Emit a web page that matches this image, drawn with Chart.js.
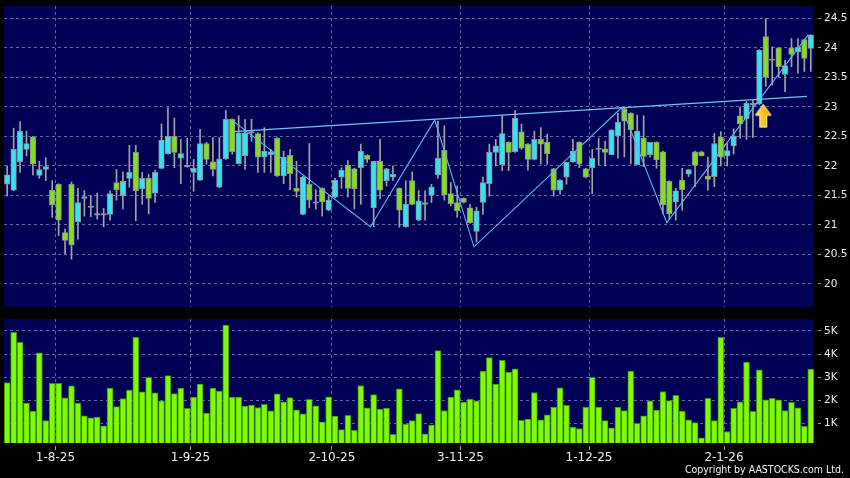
<!DOCTYPE html>
<html>
<head>
<meta charset="utf-8">
<title>Daily candlestick with volume</title>
<script src="https://cdn.jsdelivr.net/npm/chart.js"></script>
<style>
  html, body { margin: 0; padding: 0; background: #000; }
  #wrap { position: relative; width: 850px; height: 478px; overflow: hidden; background: #000; }
  #copy { position: absolute; right: 6px; top: 463px; color: #f2f2f2; white-space: nowrap;
          font: 10.5px "DejaVu Sans Condensed", "Liberation Sans Narrow", "DejaVu Sans", sans-serif; }
</style>
</head>
<body>
<div id="wrap">
  <canvas id="priceChart" width="850" height="310" style="position:absolute;left:0;top:0"></canvas>
  <canvas id="volChart" width="850" height="163" style="position:absolute;left:0;top:315px"></canvas>
  <div id="copy">Copyright by AASTOCKS.com Ltd.</div>
</div>

<script>
  // trading days (d-m-yy)
  const dates = [
    '23-7-25','24-7-25','25-7-25','28-7-25','29-7-25','30-7-25','31-7-25',
    '1-8-25','4-8-25','5-8-25','6-8-25','7-8-25','8-8-25','11-8-25','12-8-25','13-8-25','14-8-25','15-8-25',
    '18-8-25','19-8-25','20-8-25','21-8-25','22-8-25','25-8-25','26-8-25','27-8-25','28-8-25','29-8-25',
    '1-9-25','2-9-25','3-9-25','4-9-25','5-9-25','8-9-25','9-9-25','10-9-25','11-9-25','12-9-25','15-9-25',
    '16-9-25','17-9-25','18-9-25','19-9-25','22-9-25','23-9-25','24-9-25','25-9-25','26-9-25','29-9-25','30-9-25',
    '2-10-25','3-10-25','6-10-25','8-10-25','9-10-25','10-10-25','13-10-25','14-10-25','15-10-25','16-10-25',
    '17-10-25','20-10-25','21-10-25','22-10-25','23-10-25','24-10-25','27-10-25','28-10-25','30-10-25','31-10-25',
    '3-11-25','4-11-25','5-11-25','6-11-25','7-11-25','10-11-25','11-11-25','12-11-25','13-11-25','14-11-25',
    '17-11-25','18-11-25','19-11-25','20-11-25','21-11-25','24-11-25','25-11-25','26-11-25','27-11-25','28-11-25',
    '1-12-25','2-12-25','3-12-25','4-12-25','5-12-25','8-12-25','9-12-25','10-12-25','11-12-25','12-12-25',
    '15-12-25','16-12-25','17-12-25','18-12-25','19-12-25','22-12-25','23-12-25','24-12-25','29-12-25','30-12-25','31-12-25',
    '2-1-26','5-1-26','6-1-26','7-1-26','8-1-26','9-1-26','12-1-26','13-1-26','14-1-26','15-1-26',
    '16-1-26','19-1-26','20-1-26','21-1-26','22-1-26'
  ];

  const open = [
    21.69,21.59,22.07,22.28,22.49,21.84,21.94,21.59,21.69,20.87,
    21.69,21.05,21.45,21.31,21.18,21.18,21.18,21.72,21.49,21.79,
    22.23,21.61,21.79,21.54,21.96,22.21,22.50,22.13,22.00,21.89,
    21.76,22.38,22.07,21.64,22.12,22.79,22.04,22.17,22.57,22.55,
    22.15,22.19,22.47,21.83,22.18,21.62,21.18,21.69,21.38,21.62,
    21.25,21.47,21.81,22.01,21.95,21.97,22.18,21.29,22.08,21.75,
    21.81,21.62,20.97,21.75,21.08,21.38,21.50,21.85,22.27,21.53,
    21.38,21.45,21.29,20.89,21.38,21.70,22.23,22.02,22.40,22.24,
    22.58,22.37,22.11,22.45,22.40,21.95,21.59,21.81,22.07,22.40,
    21.95,21.97,22.29,22.29,22.19,22.51,22.97,22.89,22.02,22.47,
    22.19,22.40,22.24,21.74,21.39,21.76,21.86,22.24,22.24,21.83,
    21.82,22.49,22.17,22.34,22.85,22.80,23.05,23.05,24.19,23.80,
    24.00,23.55,24.00,23.93,24.14,23.99
  ];
  const high = [
    22.00,22.64,22.75,22.59,22.50,22.08,22.14,21.75,21.70,20.93,
    21.73,21.62,21.58,21.50,21.54,21.28,21.58,21.94,21.90,22.35,
    22.35,21.89,21.86,21.93,22.71,22.99,22.81,22.45,22.47,22.11,
    22.62,22.40,22.48,22.48,22.94,22.80,22.85,22.79,22.79,22.56,
    22.65,22.28,22.48,22.25,22.28,22.08,21.83,22.38,21.60,21.63,
    21.49,21.79,21.97,22.09,21.96,22.37,22.19,22.08,22.45,21.96,
    22.00,21.63,21.75,21.90,21.58,21.58,21.69,22.76,22.68,21.72,
    21.66,21.46,21.35,21.30,21.81,22.37,22.45,22.85,22.41,22.94,
    22.71,22.38,22.59,22.65,22.54,21.96,21.77,22.06,22.45,22.41,
    21.96,22.28,22.47,22.42,22.61,22.89,22.99,22.90,22.86,22.85,
    22.40,22.41,22.25,21.75,21.62,21.96,21.94,22.25,22.25,22.15,
    22.55,22.58,22.38,22.63,23.00,23.09,23.11,23.97,24.50,24.02,
    24.01,23.79,24.16,24.16,24.15,24.22
  ];
  const low = [
    21.49,21.58,21.89,22.17,21.85,21.79,21.75,21.13,20.82,20.51,
    20.42,20.76,21.15,21.14,21.10,20.97,21.08,21.42,21.27,21.64,
    21.07,21.35,21.19,21.38,21.95,22.20,21.97,21.70,21.98,21.57,
    21.75,22.03,21.83,21.63,22.11,22.20,22.03,21.94,22.42,21.89,
    21.89,21.89,21.82,21.70,21.60,21.47,21.17,21.29,21.27,21.15,
    21.24,21.46,21.62,21.47,21.27,21.35,22.06,20.97,21.44,21.66,
    21.75,20.96,20.96,21.34,21.07,21.08,21.38,21.79,21.42,21.32,
    21.13,21.37,21.03,20.71,21.18,21.49,22.00,21.92,21.92,22.23,
    22.28,21.93,22.10,22.03,22.03,21.49,21.52,21.69,22.06,21.97,
    21.80,21.53,22.02,22.00,22.19,22.13,22.15,22.04,22.02,21.99,
    22.15,21.96,21.19,21.10,21.08,21.25,21.82,21.65,22.17,21.59,
    21.65,22.00,22.00,22.20,22.47,22.45,22.48,23.04,23.35,23.37,
    23.51,23.26,23.68,23.57,23.60,23.60
  ];
  const close = [
    21.85,22.28,22.59,22.38,22.03,21.94,21.99,21.34,21.08,20.74,
    20.66,21.38,21.48,21.31,21.18,21.18,21.53,21.60,21.74,21.89,
    21.58,21.79,21.45,21.89,22.44,22.50,22.23,22.21,22.00,21.96,
    22.38,22.11,21.94,22.12,22.79,22.24,22.56,22.56,22.57,22.15,
    22.25,22.24,21.83,22.15,21.87,21.57,21.81,21.42,21.38,21.39,
    21.42,21.76,21.93,21.62,21.61,22.25,22.11,22.08,21.59,21.95,
    21.86,21.25,21.35,21.35,21.41,21.35,21.64,22.13,21.51,21.36,
    21.24,21.38,21.04,21.24,21.72,22.23,22.34,22.55,22.23,22.81,
    22.30,22.11,22.45,22.37,22.21,21.59,21.76,22.06,22.25,22.03,
    21.81,22.13,22.29,22.23,22.61,22.74,22.76,22.61,22.59,22.16,
    22.40,22.10,21.34,21.19,21.58,21.60,21.94,22.01,22.17,21.77,
    22.38,22.15,22.26,22.50,22.71,23.06,23.05,23.96,23.50,23.80,
    23.68,23.70,23.89,24.01,23.82,24.22
  ];
  // volume in thousands
  const volumeK = [
    2.77,4.94,4.51,1.88,1.53,4.05,1.12,2.73,2.74,2.11,
    2.63,1.88,1.33,1.24,1.27,0.90,2.53,1.73,2.08,2.44,
    4.73,2.37,2.99,2.32,1.98,3.07,2.29,2.53,1.65,2.14,
    2.70,1.45,2.53,2.40,5.26,2.14,2.14,1.75,1.79,1.69,
    1.83,1.55,2.28,1.94,2.12,1.59,1.42,2.04,1.76,1.07,
    2.15,1.32,0.73,1.35,0.70,2.64,1.68,2.25,1.62,1.66,
    0.53,2.50,0.97,1.12,1.43,0.55,0.93,4.15,1.56,2.14,
    2.45,1.92,2.05,1.98,3.27,3.85,2.70,3.73,3.22,3.36,
    1.14,1.19,2.34,1.16,1.37,1.71,2.54,1.78,0.84,0.78,
    1.71,3.00,1.71,1.12,0.81,1.71,1.56,3.27,1.01,1.33,
    1.98,1.58,2.38,1.99,2.22,1.53,1.16,1.04,0.38,2.09,
    1.12,4.73,0.65,1.65,1.94,3.65,1.52,3.32,2.02,2.09,
    2.02,1.56,1.91,1.68,0.88,3.35
  ];

  // tick labels
  const xTickLabels = ['1-8-25', '1-9-25', '2-10-25', '3-11-25', '1-12-25', '2-1-26'];
  const priceTicks = [20, 20.5, 21, 21.5, 22, 22.5, 23, 23.5, 24, 24.5];
  const volTicks = [1, 2, 3, 4, 5];

  // drawn trend lines (day index, price)
  const resistLine = [{x: 35.1, y: 22.58}, {x: 124.4, y: 23.18}];
  const zigzagLine = [
    {x: 34.9, y: 22.78}, {x: 56.5, y: 20.97}, {x: 66.5, y: 22.78}, {x: 72.6, y: 20.63},
    {x: 95.6, y: 22.99}, {x: 102.6, y: 21.04}, {x: 124.6, y: 24.22}
  ];
  const breakoutArrow = [{x: 117.6, y: 22.85}];

  const NAVY = '#000054';
  const GRID = 'rgba(135,135,185,0.75)';
  const UP = '#36e2ef';
  const DOWN = '#84de1f';
  const FLAT = '#a6a6a6';

  Chart.defaults.font.family = '"DejaVu Sans", sans-serif';

  const xTicks = xTickLabels.map(l => dates.indexOf(l) + 0.5);

  // fills the plot area in navy
  const plotBg = {
    id: 'plotBg',
    beforeDraw(chart) {
      const {ctx, chartArea: a} = chart;
      ctx.save();
      ctx.fillStyle = NAVY;
      ctx.fillRect(a.left, a.top, a.right - a.left, a.bottom - a.top);
      ctx.restore();
    }
  };

  function makeArrow() {
    const c = document.createElement('canvas');
    c.width = 18; c.height = 25;
    const g = c.getContext('2d');
    g.beginPath();
    g.moveTo(9, 1); g.lineTo(17, 12); g.lineTo(12.5, 12); g.lineTo(12.5, 24);
    g.lineTo(5.5, 24); g.lineTo(5.5, 12); g.lineTo(1, 12); g.closePath();
    const grad = g.createLinearGradient(0, 0, 18, 0);
    grad.addColorStop(0, '#ffe36a');
    grad.addColorStop(0.55, '#ffc21a');
    grad.addColorStop(1, '#e89500');
    g.fillStyle = grad;
    g.fill();
    g.strokeStyle = '#fff0b0';
    g.lineWidth = 1;
    g.stroke();
    return c;
  }

  const bodies = open.map((o, i) => {
    const c = close[i];
    return o === c ? {x: i, y: [o - 0.012, o + 0.012]} : {x: i, y: [o, c]};
  });
  const bodyColors = open.map((o, i) => close[i] > o ? UP : (close[i] < o ? DOWN : FLAT));
  const wicks = low.map((l, i) => ({x: i, y: [l, high[i]]}));
  const volBars = volumeK.map((v, i) => ({x: i, y: v}));

  const xScale = (showLabels) => ({
    type: 'linear',
    min: -0.5,
    max: dates.length - 0.5,
    offset: false,
    afterBuildTicks: s => { s.ticks = xTicks.map(v => ({value: v})); },
    afterFit: s => {
      s.height = showLabels ? 35 : 0;
      s.paddingLeft = 0; s.paddingRight = 0;
    },
    ticks: {
      display: showLabels,
      autoSkip: false,
      maxRotation: 0,
      color: '#ececec',
      font: {size: 12},
      padding: 1,
      callback: (v, i) => xTickLabels[i]
    },
    grid: {
      offset: false,
      color: GRID,
      drawTicks: showLabels,
      tickLength: 7,
      tickColor: '#9a9a9a',
      tickBorderDash: [0, 3, 4, 100]
    },
    border: {display: false, dash: [3, 3]}
  });

  const yScale = (ticksList, min, max, fmt) => ({
    position: 'right',
    min: min,
    max: max,
    afterBuildTicks: s => { s.ticks = ticksList.map(v => ({value: v})); },
    afterFit: s => {
      s.width = 36;
      s.paddingTop = 0; s.paddingBottom = 0;
    },
    ticks: {color: '#ececec', font: {size: 10.5}, padding: 3, callback: fmt},
    grid: {
      color: GRID,
      tickLength: 7,
      tickColor: '#9a9a9a',
      tickBorderDash: [0, 4, 3, 100]
    },
    border: {display: false, dash: [3, 3]}
  });

  new Chart(document.getElementById('priceChart'), {
    type: 'bar',
    data: {
      datasets: [
        {
          type: 'scatter', data: breakoutArrow, pointStyle: makeArrow(),
          pointRadius: 10, order: -1
        },
        {
          type: 'line', data: resistLine, borderColor: '#72c4f2', borderWidth: 1.2,
          pointRadius: 0, order: 0
        },
        {
          type: 'line', data: zigzagLine, borderColor: '#5fb6ec', borderWidth: 1.1,
          pointRadius: 0, tension: 0, order: 0
        },
        {
          label: 'body', data: bodies, backgroundColor: bodyColors,
          borderColor: '#8a9296', borderWidth: 1, borderSkipped: false,
          barThickness: 5.6, grouped: false, order: 1
        },
        {
          label: 'wick', data: wicks, backgroundColor: '#a2a2a2',
          barThickness: 1, grouped: false, order: 2
        }
      ]
    },
    options: {
      responsive: false,
      animation: false,
      devicePixelRatio: 1,
      layout: {autoPadding: false, padding: {top: 6, left: 4, right: 0, bottom: 3}},
      plugins: {legend: {display: false}, tooltip: {enabled: false}},
      scales: {
        x: xScale(false),
        y: yScale(priceTicks, 19.61, 24.71, v => String(v))
      }
    },
    plugins: [plotBg]
  });

  new Chart(document.getElementById('volChart'), {
    type: 'bar',
    data: {
      datasets: [{
        label: 'volume', data: volBars, backgroundColor: '#7dfc06',
        borderColor: '#3f8f05', borderWidth: 1, borderSkipped: 'start',
        barThickness: 6, grouped: false
      }]
    },
    options: {
      responsive: false,
      animation: false,
      devicePixelRatio: 1,
      layout: {autoPadding: false, padding: {top: 4, left: 4, right: 0, bottom: 0}},
      plugins: {legend: {display: false}, tooltip: {enabled: false}},
      scales: {
        x: xScale(true),
        y: yScale(volTicks, 0.154, 5.518, v => v + 'K')
      }
    },
    plugins: [plotBg]
  });
</script>
</body>
</html>
